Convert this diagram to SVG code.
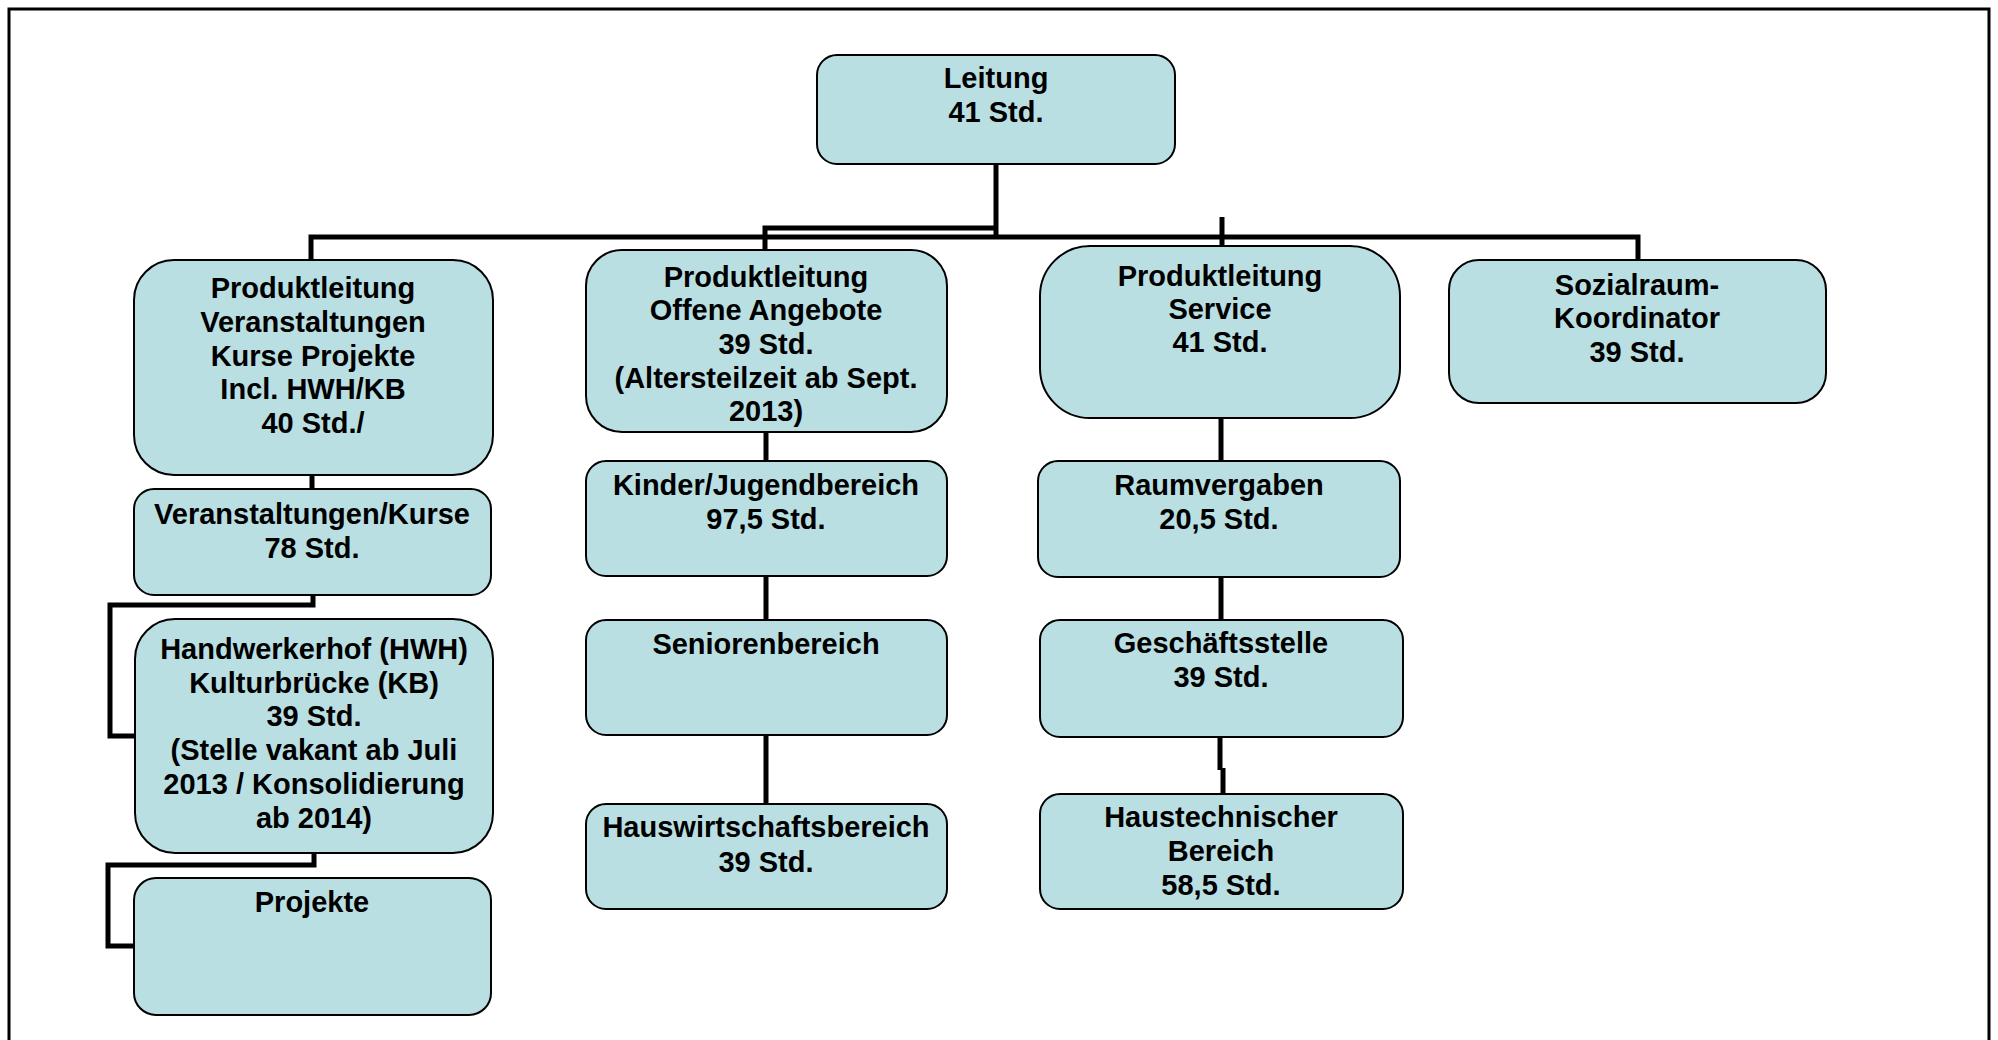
<svg xmlns="http://www.w3.org/2000/svg" width="1998" height="1040" viewBox="0 0 1998 1040">
<style>
.box{fill:#b9dfe3;stroke:#000;stroke-width:2}
.t{font-family:"Liberation Sans",Arial,sans-serif;font-weight:bold;font-size:29px;fill:#000;text-anchor:middle}
.c{fill:none;stroke:#000;stroke-width:5;stroke-linejoin:miter}
</style>
<rect x="0" y="0" width="1998" height="1040" fill="#fff"/>
<rect x="9" y="9" width="1980" height="1040" fill="none" stroke="#000" stroke-width="3"/>
<g id="connectors">
<path class="c" d="M311,262 V237 H1638 V262"/>
<path class="c" d="M996,164 V238"/>
<path class="c" d="M996,228 H765 V251"/>
<path class="c" stroke-width="4" d="M1222,217 V246"/>
<path class="c" d="M312,476 V489"/>
<path class="c" d="M313,594 V605 H110 V736 H135"/>
<path class="c" d="M314,853 V865 H108 V946 H134"/>
<path class="c" d="M766,432 V461"/>
<path class="c" d="M766,576 V621"/>
<path class="c" d="M766,735 V805"/>
<path class="c" d="M1221,418 V462"/>
<path class="c" d="M1221,577 V621"/>
<path class="c" d="M1220,737 V770 M1223,768 V795"/>
</g>
<g id="leitung">
<rect class="box" x="817" y="55" width="358" height="109" rx="20"/>
<text class="t" x="996" y="88">Leitung</text>
<text class="t" x="996" y="122">41 Std.</text>
</g>
<g id="pl-veranstaltungen">
<rect class="box" x="134" y="260" width="359" height="215" rx="40"/>
<text class="t" x="313" y="298">Produktleitung</text>
<text class="t" x="313" y="332">Veranstaltungen</text>
<text class="t" x="313" y="366">Kurse Projekte</text>
<text class="t" x="313" y="399">Incl. HWH/KB</text>
<text class="t" x="313" y="433">40 Std./</text>
</g>
<g id="pl-offene-angebote">
<rect class="box" x="586" y="250" width="361" height="182" rx="36"/>
<text class="t" x="766" y="287">Produktleitung</text>
<text class="t" x="766" y="320">Offene Angebote</text>
<text class="t" x="766" y="354">39 Std.</text>
<text class="t" x="766" y="388">(Altersteilzeit ab Sept.</text>
<text class="t" x="766" y="421">2013)</text>
</g>
<g id="pl-service">
<rect class="box" x="1040" y="246" width="360" height="172" rx="50"/>
<text class="t" x="1220" y="286">Produktleitung</text>
<text class="t" x="1220" y="319">Service</text>
<text class="t" x="1220" y="352">41 Std.</text>
</g>
<g id="sozialraum">
<rect class="box" x="1449" y="260" width="377" height="143" rx="30"/>
<text class="t" x="1637" y="295">Sozialraum-</text>
<text class="t" x="1637" y="328">Koordinator</text>
<text class="t" x="1637" y="362">39 Std.</text>
</g>
<g id="veranstaltungen-kurse">
<rect class="box" x="134" y="489" width="357" height="106" rx="20"/>
<text class="t" x="312" y="524">Veranstaltungen/Kurse</text>
<text class="t" x="312" y="558">78 Std.</text>
</g>
<g id="handwerkerhof">
<rect class="box" x="135" y="619" width="358" height="234" rx="40"/>
<text class="t" x="314" y="659">Handwerkerhof (HWH)</text>
<text class="t" x="314" y="693">Kulturbrücke (KB)</text>
<text class="t" x="314" y="726">39 Std.</text>
<text class="t" x="314" y="760">(Stelle vakant ab Juli</text>
<text class="t" x="314" y="794">2013 / Konsolidierung</text>
<text class="t" x="314" y="828">ab 2014)</text>
</g>
<g id="projekte">
<rect class="box" x="134" y="878" width="357" height="137" rx="22"/>
<text class="t" x="312" y="912">Projekte</text>
</g>
<g id="kinder-jugend">
<rect class="box" x="586" y="461" width="361" height="115" rx="20"/>
<text class="t" x="766" y="495">Kinder/Jugendbereich</text>
<text class="t" x="766" y="529">97,5 Std.</text>
</g>
<g id="senioren">
<rect class="box" x="586" y="620" width="361" height="115" rx="20"/>
<text class="t" x="766" y="654">Seniorenbereich</text>
</g>
<g id="hauswirtschaft">
<rect class="box" x="586" y="804" width="361" height="105" rx="20"/>
<text class="t" x="766" y="837">Hauswirtschaftsbereich</text>
<text class="t" x="766" y="872">39 Std.</text>
</g>
<g id="raumvergaben">
<rect class="box" x="1038" y="461" width="362" height="116" rx="20"/>
<text class="t" x="1219" y="495">Raumvergaben</text>
<text class="t" x="1219" y="529">20,5 Std.</text>
</g>
<g id="geschaeftsstelle">
<rect class="box" x="1040" y="620" width="363" height="117" rx="20"/>
<text class="t" x="1221" y="653">Geschäftsstelle</text>
<text class="t" x="1221" y="687">39 Std.</text>
</g>
<g id="haustechnik">
<rect class="box" x="1040" y="794" width="363" height="115" rx="20"/>
<text class="t" x="1221" y="827">Haustechnischer</text>
<text class="t" x="1221" y="861">Bereich</text>
<text class="t" x="1221" y="895">58,5 Std.</text>
</g>
</svg>
